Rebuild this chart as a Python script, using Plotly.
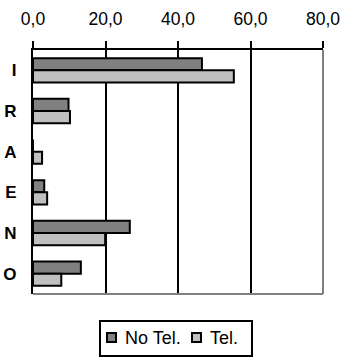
import plotly.graph_objects as go

categories = ["I", "R", "A", "E", "N", "O"]
no_tel = [46.6, 9.8, 0.0, 3.1, 26.7, 13.2]
tel = [55.4, 10.2, 2.5, 3.9, 19.9, 7.8]
tick_vals = [0, 20, 40, 60, 80]
tick_text = ["0,0", "20,0", "40,0", "60,0", "80,0"]
series_names = ["No Tel.", "Tel."]
series_colors = ["#808080", "#c0c0c0"]

FONT = "Liberation Sans, Arial, sans-serif"
W, H = 350, 358
L, R, T, B = 33, 27, 50, 64
PW, PH = W - L - R, H - T - B


def px(x):
    return (x - L) / PW


def py(y):
    return (H - B - y) / PH


fig = go.Figure()
for name, vals, col in zip(series_names, [no_tel, tel], series_colors):
    fig.add_trace(go.Bar(y=categories, x=vals, name=name, orientation="h",
                         marker=dict(color=col, line=dict(color="black", width=2)),
                         showlegend=False))

shapes = [
    dict(type="line", xref="paper", yref="paper", x0=1, x1=1, y0=0, y1=1,
         line=dict(color="#808080", width=2)),
    dict(type="line", xref="paper", yref="paper", x0=0, x1=1, y0=0, y1=0,
         line=dict(color="#808080", width=2)),
    # legend box
    dict(type="rect", xref="paper", yref="paper", x0=px(100), x1=px(252),
         y0=py(321), y1=py(356), line=dict(color="black", width=2),
         fillcolor="white"),
]
annotations = []
legend_items = [(107, 123), (192, 208)]
for (mx, tx), name, col in zip(legend_items, series_names, series_colors):
    shapes.append(dict(type="rect", xref="paper", yref="paper", x0=px(mx), x1=px(mx + 9),
                       y0=py(333), y1=py(342), line=dict(color="black", width=2),
                       fillcolor=col))
    annotations.append(dict(text=name, xref="paper", yref="paper", x=px(tx), y=py(338),
                            xanchor="left", yanchor="middle", showarrow=False,
                            font=dict(size=18, family=FONT, color="black")))

fig.update_layout(
    width=W, height=H,
    margin=dict(l=L, r=R, t=T, b=B),
    paper_bgcolor="white", plot_bgcolor="white",
    barmode="group", bargap=0.4, bargroupgap=0,
    font=dict(family=FONT, size=17.5, color="black"),
    showlegend=False,
    xaxis=dict(side="top", range=[0, 80], tickvals=tick_vals, ticktext=tick_text,
               showgrid=True, gridcolor="black", gridwidth=2,
               showline=True, linecolor="black", linewidth=2,
               ticks="outside", ticklen=7, tickwidth=2, tickcolor="black",
               zeroline=False, tickfont=dict(size=17.5), ticklabelstandoff=9,
               automargin=False),
    yaxis=dict(autorange="reversed", showline=True, linecolor="black", linewidth=2,
               ticks="", tickfont=dict(size=17, family=FONT),
               tickvals=categories, ticktext=["<b>%s</b>" % c for c in categories],
               ticklabelstandoff=11, automargin=False),
    shapes=shapes,
    annotations=annotations,
)

fig.write_html("out.html")
